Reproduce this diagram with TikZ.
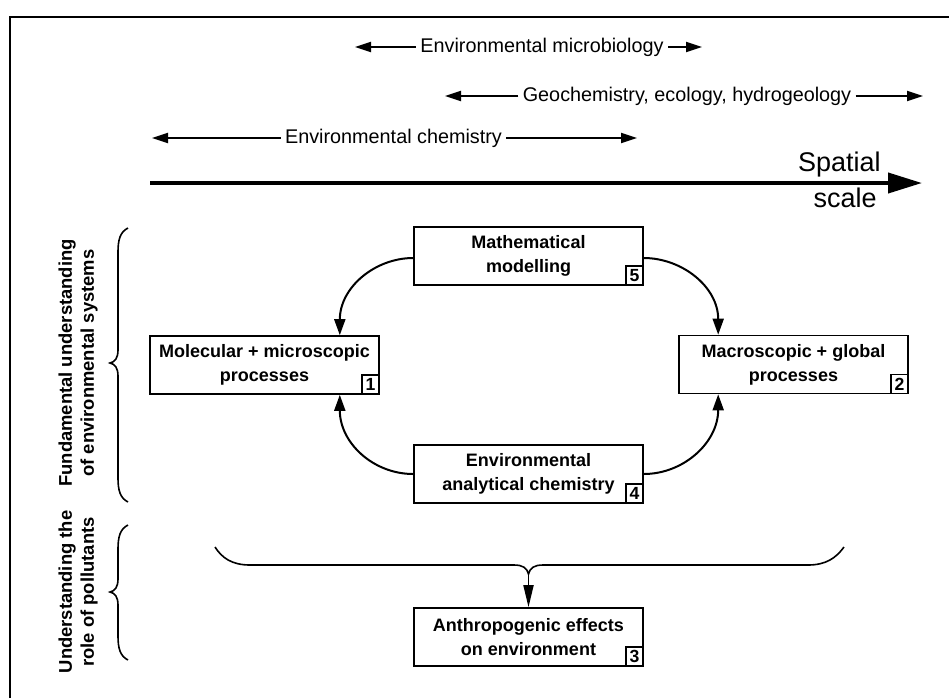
\documentclass[tikz,border=0pt]{standalone}
\usepackage{fontspec}
\setmainfont{Liberation Sans}
\usetikzlibrary{arrows.meta,calc}
\begin{document}
\begin{tikzpicture}[x=0.5pt,y=-0.5pt,
 procbox/.style={draw,line width=0.8pt,minimum width=114.5pt,minimum height=29pt,align=center,font=\fontsize{9}{12}\selectfont\bfseries,inner sep=0pt},
 numbox/.style={draw,line width=0.7pt,minimum width=8.5pt,minimum height=9.5pt,inner sep=0pt,font=\fontsize{8.8}{9}\selectfont\bfseries,anchor=south east},
 toplabel/.style={font=\fontsize{9.9}{12}\selectfont,inner sep=2pt},
 rangearrow/.style={line width=0.9pt,-{Triangle[length=8pt,width=5pt]}},
 curvarrow/.style={line width=1pt,-{Triangle[length=8pt,width=5.5pt]}},
 bracepath/.style={line width=0.8pt},
 sidelabel/.style={rotate=90,align=center,font=\fontsize{9.2}{11}\selectfont\bfseries},
 scalelabel/.style={font=\fontsize{13.5}{14}\selectfont,inner sep=0pt,anchor=base east}
]
\useasboundingbox (0,0) rectangle (949,698);
% frame
\draw[line width=0.8pt] (10,698) -- (10,17) -- (949,17);

% range labels
\node[toplabel] (micro) at (542,47) {Environmental microbiology};
\coordinate (microL) at (355,47);
\coordinate (microR) at (702,47);
\draw[rangearrow] (micro.west) -- (microL);
\draw[rangearrow] (micro.east) -- (microR);

\node[toplabel] (geo) at (687,96) {Geochemistry, ecology, hydrogeology};
\coordinate (geoL) at (445,96);
\coordinate (geoR) at (923,96);
\draw[rangearrow] (geo.west) -- (geoL);
\draw[rangearrow] (geo.east) -- (geoR);

\node[toplabel] (chem) at (393.5,138) {Environmental chemistry};
\coordinate (chemL) at (152,138);
\coordinate (chemR) at (637,138);
\draw[rangearrow] (chem.west) -- (chemL);
\draw[rangearrow] (chem.east) -- (chemR);

% spatial scale axis
\coordinate (axS) at (150,183);
\coordinate (axE) at (922,183);
\draw[line width=2pt,-{Triangle[length=17pt,width=10pt]}] (axS) -- (axE);
\node[scalelabel] (spatial) at (881,171) {Spatial};
\node[scalelabel] (scale) at (877,207) {scale};

% boxes
\node[procbox] (math) at (528.5,256) {Mathematical\\modelling};
\node[procbox] (mol) at (264.5,365) {Molecular + microscopic\\processes};
\node[procbox] (mac) at (793.5,364.5) {Macroscopic + global\\processes};
\node[procbox] (anal) at (528.5,474) {Environmental\\analytical chemistry};
\node[procbox] (anth) at (528.5,637) {Anthropogenic effects\\on environment};

\node[numbox] (n5) at (math.south east) {5};
\node[numbox] (n1) at (mol.south east) {1};
\node[numbox] (n2) at (mac.south east) {2};
\node[numbox] (n4) at (anal.south east) {4};
\node[numbox] (n3) at (anth.south east) {3};

% curved arrows
\coordinate (molT) at ($(mol.north east)+(-40,0)$);
\coordinate (molB) at ($(mol.south east)+(-40,0)$);
\coordinate (macT) at ($(mac.north west)+(40,0)$);
\coordinate (macB) at ($(mac.south west)+(40,0)$);
\draw[curvarrow] ($(math.west)+(0,2)$) .. controls +(-38,0) and +(0,-48) .. (molT);
\draw[curvarrow] ($(math.east)+(0,2)$) .. controls +(38,0) and +(0,-48) .. (macT);
\draw[curvarrow] (anal.west) .. controls +(-40,0) and +(0,48) .. (molB);
\draw[curvarrow] (anal.east) .. controls +(40,0) and +(0,48) .. (macB);

% horizontal brace
\coordinate (cusp) at (528.5,574);
\draw[bracepath] (215,547) .. controls (222,558) and (232,565) .. (250,565) -- (514,565)
  .. controls (523,565) and (527,568) .. (cusp)
  .. controls (530,568) and (534,565) .. (543,565) -- (808,565)
  .. controls (826,565) and (836,558) .. (844,547);
\draw[line width=0.9pt,-{Triangle[length=11pt,width=5pt]}] (cusp) -- (anth.north);

% side braces
\draw[bracepath] (128,228) .. controls (120,232) and (118,240) .. (118,252) -- (118,350)
  .. controls (118,358) and (115,362) .. (110,363)
  .. controls (115,364) and (118,368) .. (118,376) -- (118,478)
  .. controls (118,490) and (120,498) .. (128,502);
\draw[bracepath] (128,525) .. controls (120,529) and (118,537) .. (118,549) -- (118,579)
  .. controls (118,587) and (115,591) .. (110,592)
  .. controls (115,593) and (118,597) .. (118,605) -- (118,636)
  .. controls (118,648) and (120,656) .. (128,660);

\node[sidelabel] (fund) at (78,363) {Fundamental understanding\\of environmental systems};
\node[sidelabel] (poll) at (78,592) {Understanding the\\role of pollutants};
\end{tikzpicture}
\end{document}
